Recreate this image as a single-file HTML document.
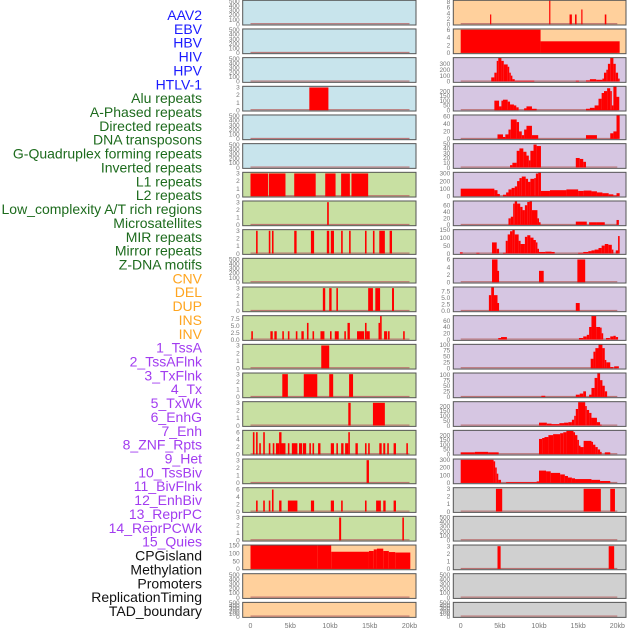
<!DOCTYPE html>
<html><head><meta charset="utf-8">
<style>
html,body{margin:0;padding:0;background:#fff;width:630px;height:630px;overflow:hidden}
svg{display:block}
.lbl{font-family:"Liberation Sans",sans-serif;font-size:14px}
.tk{font-family:"Liberation Sans",sans-serif;font-size:6.5px;fill:#777}
.xt{font-family:"Liberation Sans",sans-serif;font-size:7px;fill:#777}
</style></head>
<body>
<svg id="chart" width="630" height="630" viewBox="0 0 630 630" xmlns="http://www.w3.org/2000/svg"></svg>
<script>
const trackLabels = ["AAV2","EBV","HBV","HIV","HPV","HTLV-1","Alu repeats","A-Phased repeats","Directed repeats","DNA transposons","G-Quadruplex forming repeats","Inverted repeats","L1 repeats","L2 repeats","Low_complexity A/T rich regions","Microsatellites","MIR repeats","Mirror repeats","Z-DNA motifs","CNV","DEL","DUP","INS","INV","1_TssA","2_TssAFlnk","3_TxFlnk","4_Tx","5_TxWk","6_EnhG","7_Enh","8_ZNF_Rpts","9_Het","10_TssBiv","11_BivFlnk","12_EnhBiv","13_ReprPC","14_ReprPCWk","15_Quies","CPGisland","Methylation","Promoters","ReplicationTiming","TAD_boundary"];
const labelGroups = [0,0,0,0,0,0,1,1,1,1,1,1,1,1,1,1,1,1,1,2,2,2,2,2,3,3,3,3,3,3,3,3,3,3,3,3,3,3,3,4,4,4,4,4];
const xTickValues = [0,5,10,15,20];
const xTickLabels = ["0","5kb","10kb","15kb","20kb"];

const leftYMax = [520,520,520,3.15,520,520,3.15,3.15,3.15,520,3.15,8.6,3.15,3.15,3.15,6.5,3.15,6.5,3.15,153,520,520];
const leftTicks = ["500","500","500","3","500","500","3","3","3","500","3","2.5","3","3","3","6","3","6","3","150","500","500"];
const rightYMax = [8.6,6.2,405,250,64,50,316,73,150,6.3,9.1,76,101,107,245,250,310,3.15,520,3.15,520,520];
const rightTicks = ["8","6","300","200","60","50","300","60","150","6","2.5","60","100","100","200","200","300","3","500","3","500","500"];

const leftSeries = [
 [],[],[],
 [[7.4,9.8,3]],
 [],[],
 [[0,2.2,3],[2.3,4.4,3],[5.5,8.2,3],[9.4,10.7,3],[11.4,12.5,3],[12.7,14.8,3]],
 [[9.64,9.85,3]],
 [[0.7,0.9,3],[2.3,2.5,3],[2.7,2.9,3],[5.5,5.8,3],[7.6,8.0,3],[9.6,9.9,3],[10.1,10.5,3],[11.4,11.6,3],[12.4,12.6,3],[14.4,14.6,3],[15.4,15.6,3],[16.2,16.9,3],[17.5,17.8,3]],
 [],
 [[9.1,9.4,3],[9.9,10.2,3],[10.8,11.0,3],[14.8,15.4,3],[15.7,16.3,3],[17.8,18.05,3]],
 [[0.1,0.3,3],[2.5,2.8,3],[3.0,3.3,3],[4.0,4.2,3],[4.7,4.9,3],[5.7,5.9,3],[6.4,6.7,3],[7.1,7.3,6],[7.8,8.0,3],[8.8,9.3,3],[10.0,10.2,3],[10.6,11.1,3],[11.8,12.0,3],[12.2,12.5,6],[13.4,14.3,3],[14.4,14.6,6],[14.6,15.0,3],[16.1,16.3,6],[16.3,16.5,9],[16.8,17.2,3],[17.3,17.5,3],[19.2,19.4,3]],
 [[8.9,9.9,3]],
 [[4.0,4.7,3],[6.7,8.4,3],[9.9,10.4,3],[12.4,12.9,3]],
 [[12.3,12.6,3],[15.4,16.9,3]],
 [[0.3,0.5,6],[0.7,0.9,6],[1.1,1.3,3],[1.6,1.8,6],[2.3,2.5,3],[2.8,3.0,3],[3.2,3.6,3],[3.6,3.9,6],[3.9,4.4,3],[4.7,4.9,3],[5.2,5.9,3],[6.1,6.5,3],[6.6,7.0,3],[7.4,7.6,3],[7.8,8.0,3],[8.5,8.8,3],[10.1,10.5,3],[10.8,11.0,3],[11.4,11.7,3],[11.9,12.3,3],[12.3,12.5,6],[13.2,13.5,3],[14.4,14.6,3],[14.8,15.0,3],[16.2,16.5,3],[16.7,16.95,3],[17.2,17.4,3],[18.0,18.3,3],[19.6,19.8,3]],
 [[14.6,14.9,3]],
 [[0.7,0.9,3],[1.6,1.8,3],[2.3,2.5,3],[2.7,2.9,6],[3.6,3.9,3],[4.7,5.9,3],[7.6,8.0,3],[10.1,10.5,3],[11.4,11.6,3],[14.4,14.6,3],[15.8,16.4,3],[16.7,17.0,3],[18.0,18.3,3]],
 [[11.15,11.4,3],[19.1,19.3,3]],
 [[0,8.4,150],[8.4,10.15,155],[10.15,14.9,110],[14.9,15.5,115],[15.5,15.9,125],[15.9,16.7,130],[16.7,17.4,115],[17.4,18.2,108],[18.2,20.1,105]],
 [],[]
];

const rightSeries = [
 [[3.75,3.9,3.5],[11.3,11.45,8.6],[13.9,14.2,3.5],[14.6,14.8,3.5],[15.4,15.55,5.3],[18.4,18.6,3.5]],
 [[0,10.2,6],[10.2,20.3,3]],
 [[3.9,4.3,70],[4.3,4.6,150],[4.6,4.8,350],[4.8,5.2,400],[5.2,5.5,350],[5.5,6.0,290],[6.0,6.2,250],[6.2,6.4,150],[6.4,6.6,100],[6.6,6.9,40],[6.9,9.4,15],[14.7,15.1,15],[16.0,16.5,20],[16.5,17.3,40],[17.3,18.1,30],[18.1,18.3,50],[18.3,18.6,150],[18.6,18.8,200],[18.8,19.1,300],[19.1,19.5,400],[19.5,19.8,300],[19.8,20.1,150],[20.1,20.3,50]],
 [[4.3,4.9,100],[4.9,5.2,40],[5.2,5.4,100],[5.4,6.0,110],[6.0,6.3,90],[6.3,6.8,60],[6.8,7.1,50],[7.1,7.4,30],[8.1,8.4,20],[8.4,9.1,40],[9.1,9.7,15],[16.0,16.5,15],[16.5,17.1,25],[17.1,17.6,50],[17.6,18.0,120],[18.0,18.3,180],[18.3,18.7,200],[18.7,19.1,230],[19.1,19.3,200],[19.3,19.5,50],[19.5,19.9,255],[19.9,20.25,140]],
 [[4.7,5.4,12],[5.4,5.7,5],[5.7,6.1,12],[6.1,6.4,25],[6.4,7.15,52],[7.15,7.45,45],[7.45,7.8,20],[7.8,8.1,10],[8.1,8.4,25],[8.4,9.1,35],[9.1,9.9,10],[16.0,17.4,10],[19.1,19.5,15],[19.5,19.9,20],[19.9,20.3,65]],
 [[6.3,6.6,5],[6.6,7.15,10],[7.15,7.5,35],[7.5,8.0,40],[8.0,8.4,33],[8.4,8.7,25],[8.7,8.9,15],[8.9,9.3,35],[9.3,9.7,48],[9.7,10.25,45],[14.7,15.2,20],[15.2,15.65,18],[15.65,16.0,12]],
 [[0,4.3,100],[4.3,4.7,80],[4.7,5.0,30],[5.4,5.8,20],[5.8,6.1,50],[6.1,6.5,90],[6.5,6.9,110],[6.9,7.2,130],[7.2,7.5,200],[7.5,7.8,240],[7.8,8.3,260],[8.3,8.6,230],[8.6,8.9,190],[8.9,9.4,230],[9.4,9.6,240],[9.6,9.9,300],[9.9,10.25,320],[10.25,11.4,70],[11.4,13.5,80],[13.5,15.0,90],[15.0,15.7,70],[15.7,16.7,75],[16.7,17.4,65],[17.4,18.1,50],[18.1,18.9,40],[18.9,19.5,25],[19.5,19.9,10],[19.9,20.3,40]],
 [[6.1,6.4,20],[6.4,6.7,25],[6.7,6.9,65],[6.9,7.2,75],[7.2,7.6,65],[7.6,7.9,55],[7.9,8.2,45],[8.2,8.5,60],[8.5,8.8,70],[8.8,9.1,75],[9.1,9.8,45],[9.8,10.0,20],[10.0,10.2,8],[14.7,16.1,10],[16.4,17.4,8],[17.4,18.4,8],[19.9,20.2,15]],
 [[-0.1,0.25,8],[2.0,2.4,5],[4.0,4.6,70],[4.6,4.9,30],[5.4,5.75,5],[5.75,6.0,80],[6.0,6.3,120],[6.3,6.6,140],[6.6,6.9,150],[6.9,7.4,120],[7.4,7.65,80],[7.65,8.2,60],[8.2,8.5,105],[8.5,8.9,115],[8.9,9.3,100],[9.3,9.6,85],[9.6,9.8,70],[9.8,10.0,30],[10.0,10.8,10],[10.8,11.6,12],[11.6,12.0,10],[15.0,15.65,5],[15.65,16.3,10],[16.3,16.7,15],[16.7,17.1,20],[17.1,17.6,25],[17.6,18.0,35],[18.0,18.4,50],[18.4,18.85,60],[18.85,19.3,55],[19.3,19.5,25],[19.8,20.1,20],[20.1,20.3,110]],
 [[4.0,4.7,6],[4.7,4.9,3],[10.0,10.6,3],[14.9,15.9,6]],
 [[3.6,3.9,6],[3.9,4.25,9],[4.25,4.7,6],[4.7,4.9,3],[14.7,15.2,3]],
 [[4.8,5.15,5],[5.15,5.9,8],[15.1,15.65,5],[15.65,16.1,10],[16.1,16.4,15],[16.4,16.7,40],[16.7,17.3,75],[17.3,17.8,40],[17.8,18.0,38],[18.0,18.2,20],[18.55,19.05,5],[19.1,19.5,10],[19.5,19.8,12],[19.8,20.1,8]],
 [[16.6,16.95,40],[16.95,17.2,70],[17.2,17.6,85],[17.6,18.1,100],[18.1,18.4,85],[18.4,18.6,35],[18.6,19.1,25],[19.1,19.5,5],[19.6,20.2,8]],
 [[10.3,10.8,5],[14.7,15.2,10],[15.2,15.65,15],[15.65,16.0,25],[16.4,16.7,10],[16.7,17.1,40],[17.1,17.45,85],[17.45,17.8,105],[17.8,18.1,75],[18.1,18.4,50],[18.4,18.7,25]],
 [[10.0,11.0,30],[11.0,11.6,20],[11.6,12.6,15],[12.6,13.2,25],[13.2,13.75,30],[13.75,14.2,35],[14.2,14.5,60],[14.5,14.7,100],[14.7,15.0,170],[15.0,15.9,240],[15.9,16.1,200],[16.1,16.4,160],[16.4,16.7,130],[16.7,17.4,80],[17.4,17.8,35],[17.8,18.0,10]],
 [[0,1.8,20],[1.8,3.5,25],[3.5,4.85,20],[10.0,10.4,160],[10.4,10.7,170],[10.7,11.2,180],[11.2,11.8,200],[11.8,12.7,210],[12.7,13.1,220],[13.1,13.5,230],[13.5,14.4,245],[14.4,14.6,230],[14.6,14.9,200],[14.9,15.1,150],[15.1,15.3,90],[15.3,15.7,75],[15.7,16.7,140],[16.7,16.9,130],[16.9,17.2,100],[17.2,17.5,75],[17.5,17.8,50],[17.8,18.0,25],[18.4,19.1,20]],
 [[0,4.2,300],[4.2,4.4,280],[4.4,4.6,200],[4.6,4.8,120],[4.8,5.15,40],[5.8,9.7,10],[9.7,10.0,20],[10.0,10.9,160],[10.9,11.5,150],[11.5,12.7,130],[12.7,13.3,110],[13.3,13.7,90],[13.7,14.2,70],[14.2,14.6,60],[14.6,16.7,50],[16.7,17.8,40],[17.8,19.1,25]],
 [[4.5,5.3,3],[15.7,17.9,3],[19.1,19.7,3]],
 [],
 [[4.7,5.1,3],[18.9,19.6,3]],
 [],[]
];

const svg = document.getElementById('chart');
const NS = 'http://www.w3.org/2000/svg';
const labelColors = ['#1a1aff','#1d6b1d','#ffa51f','#a23cf0','#111'];
const leftBg = i => i < 6 ? '#c8e4ec' : (i < 19 ? '#c8e0a2' : '#ffd09c');
const rightBg = i => i < 2 ? '#ffd09c' : (i < 17 ? '#d6c6e2' : '#d0d0d0');
const rowTop = i => 0.3 + i * 28.67;
const rowH = i => i === 21 ? 15 : 24.7;
const xLeft = kb => 250.5 + kb * 7.95;
const xRight = kb => 460.7 + kb * 7.83;

function mk(tag, attrs) {
  const e = document.createElementNS(NS, tag);
  for (const k in attrs) e.setAttribute(k, attrs[k]);
  svg.appendChild(e);
  return e;
}

// track labels
trackLabels.forEach((t, i) => {
  const e = mk('text', {x: 202, y: 15 + i * 13.86 + 5, 'text-anchor': 'end', class: 'lbl', fill: labelColors[labelGroups[i]]});
  e.textContent = t;
  
  
});

function tickSet(top) {
  if (top === '500') return [0,100,200,300,400,500].map(v => [v, String(v)]);
  if (top === '2.5') return [[0,'0.0'],[2.5,'2.5'],[5,'5.0'],[7.5,'7.5']];
  const T = parseFloat(top);
  let step;
  if (T <= 3) step = 1; else if (T <= 8) step = 2; else if (T === 50) step = 10;
  else if (T === 60) step = 20; else if (T === 100) step = 25; else if (T === 150 || T === 200) step = 50; else step = 100;
  const out = [];
  for (let v = 0; v <= T + 1e-9; v += step) out.push([v, String(v)]);
  return out;
}

function drawPanel(i, side) {
  const x0 = side === 'L' ? 242.7 : 453.3;
  const x1 = side === 'L' ? 416 : 626;
  const xs = side === 'L' ? xLeft : xRight;
  const ymax = side === 'L' ? leftYMax[i] : rightYMax[i];
  const ticks = tickSet(side === 'L' ? leftTicks[i] : rightTicks[i]);
  const series = side === 'L' ? leftSeries[i] : rightSeries[i];
  const top = rowTop(i), h = rowH(i), bot = top + h - 0.8;
  const ys = v => bot - Math.min(v, ymax) / ymax * (bot - top);
  const bg = mk('rect', {x: x0, y: top, width: x1 - x0, height: h, fill: side === 'L' ? leftBg(i) : rightBg(i)});
  
  
  const base = mk('rect', {x: xs(0), y: bot - 1, width: xs(20) - xs(0), height: 1, fill: '#b86a6a'});
  
  
  series.forEach(s => {
    const y = ys(s[2]);
    const r = mk('rect', {x: xs(s[0]), y: y, width: Math.max(xs(s[1]) - xs(s[0]), 1.2), height: bot - y, fill: '#ff0000'});
    
    
  });
  const fr = mk('rect', {x: x0, y: top, width: x1 - x0, height: h, fill: 'none', stroke: '#555', 'stroke-width': 1});
  
  
  ticks.forEach(t => {
    const tx = mk('text', {x: x0 - 3, y: ys(t[0]) + 2.2, 'text-anchor': 'end', class: 'tk'});
    tx.textContent = t[1];
    
    
  });
}

for (let i = 0; i < 22; i++) { drawPanel(i, 'L'); drawPanel(i, 'R'); }

xTickValues.forEach((v, k) => {
  [xLeft, xRight].forEach(xs => {
    const t = mk('text', {x: xs(v), y: 628, 'text-anchor': 'middle', class: 'xt'});
    t.textContent = xTickLabels[k];
    
    
  });
});
</script>
</body></html>
